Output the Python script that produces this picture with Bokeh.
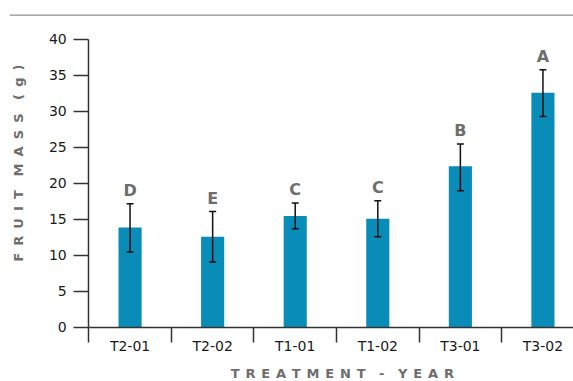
import math
from bokeh.plotting import figure
from bokeh.models import (ColumnDataSource, FixedTicker, Whisker, TeeHead, Range1d, Span)
from bokeh.core.properties import value
from bokeh.embed import file_html
from bokeh.resources import INLINE

categories = ["T2-01", "T2-02", "T1-01", "T1-02", "T3-01", "T3-02"]
means = [13.9, 12.6, 15.5, 15.1, 22.4, 32.6]
err_low = [10.5, 9.1, 13.7, 12.6, 19.0, 29.3]
err_high = [17.2, 16.1, 17.3, 17.6, 25.5, 35.8]
letters = ["D", "E", "C", "C", "B", "A"]
y_ticks = [0, 5, 10, 15, 20, 25, 30, 35, 40]

FONT = "DejaVu Sans"
BAR = "#0a8cb8"
GREY = "#6e6e6e"
NB = "\u00a0"

def spaced(s, gap):
    words = s.split(" ")
    return (NB * 3).join(gap.join(list(w)) for w in words)

xs = [i + 0.5 for i in range(len(categories))]
src = ColumnDataSource(dict(x=xs, top=means, lo=err_low, hi=err_high, lab=letters))

p = figure(width=573, height=381, output_backend="svg", toolbar_location=None,
           x_range=Range1d(-0.96, 5.87), y_range=Range1d(-7.5, 43.47),
           min_border_left=9, min_border_right=0, min_border_top=14,
           min_border_bottom=0)
p.outline_line_color = None
p.grid.grid_line_color = None
p.background_fill_color = "white"
p.border_fill_color = "white"

# horizontal rule along the top of the frame
p.add_layout(Span(location=p.y_range.end - 0.05, dimension="width",
                  line_color="#8f8f8f", line_width=2))

p.vbar(x="x", top="top", width=0.28, bottom=0, source=src, fill_color=BAR,
       line_color=None)

w = Whisker(base="x", lower="lo", upper="hi", source=src,
            line_color="#111111", line_width=1.5, level="overlay",
            upper_head=TeeHead(size=7, line_color="#111111", line_width=1.5),
            lower_head=TeeHead(size=7, line_color="#111111", line_width=1.5))
p.add_layout(w)

p.text(x="x", y="hi", text="lab", source=src, text_align="center",
       text_baseline="bottom", y_offset=-4, text_font=value(FONT),
       text_font_style="bold", text_font_size="16px", text_color=GREY)

# x axis: labels at centres, ticks at category boundaries
p.xaxis.fixed_location = 0
p.xaxis.bounds = (0, 5.87)
p.xaxis.ticker = FixedTicker(ticks=xs, minor_ticks=list(range(len(categories) + 1)))
p.xaxis.major_label_overrides = {x: c for x, c in zip(xs, categories)}
p.xaxis.major_tick_out = 0
p.xaxis.major_tick_in = 0
p.xaxis.minor_tick_out = 15
p.xaxis.minor_tick_in = 0
p.xaxis.minor_tick_line_color = "#333333"
p.xaxis.minor_tick_line_width = 1.5
p.xaxis.major_label_standoff = -4
p.xaxis.axis_line_color = "#333333"
p.xaxis.axis_line_width = 1.5
p.xaxis.major_label_text_font = FONT
p.xaxis.major_label_text_font_size = "14px"
p.xaxis.major_label_text_color = "#1a1a1a"
p.xaxis.axis_label = NB * 5 + spaced("TREATMENT - YEAR", NB + "\u200a")
p.xaxis.axis_label_text_font = FONT
p.xaxis.axis_label_text_font_style = "bold"
p.xaxis.axis_label_text_font_size = "13px"
p.xaxis.axis_label_text_color = GREY
p.xaxis.axis_label_standoff = 8

p.yaxis.fixed_location = 0
p.yaxis.bounds = (0, 40)
p.yaxis.ticker = FixedTicker(ticks=y_ticks, minor_ticks=[])
p.yaxis.major_tick_out = 15
p.yaxis.major_tick_in = 0
p.yaxis.major_tick_line_color = "#333333"
p.yaxis.major_tick_line_width = 1.5
p.yaxis.axis_line_color = "#333333"
p.yaxis.axis_line_width = 1.5
p.yaxis.major_label_standoff = 7
p.yaxis.major_label_text_font = FONT
p.yaxis.major_label_text_font_size = "14px"
p.yaxis.major_label_text_color = "#1a1a1a"
p.yaxis.axis_label = NB * 9 + spaced("FRUIT MASS (g)", NB + "\u2009")
p.yaxis.axis_label_text_font = FONT
p.yaxis.axis_label_text_font_style = "bold"
p.yaxis.axis_label_text_font_size = "13px"
p.yaxis.axis_label_text_color = GREY
p.yaxis.axis_label_standoff = 20

open("out.html", "w").write(file_html(p, INLINE))
